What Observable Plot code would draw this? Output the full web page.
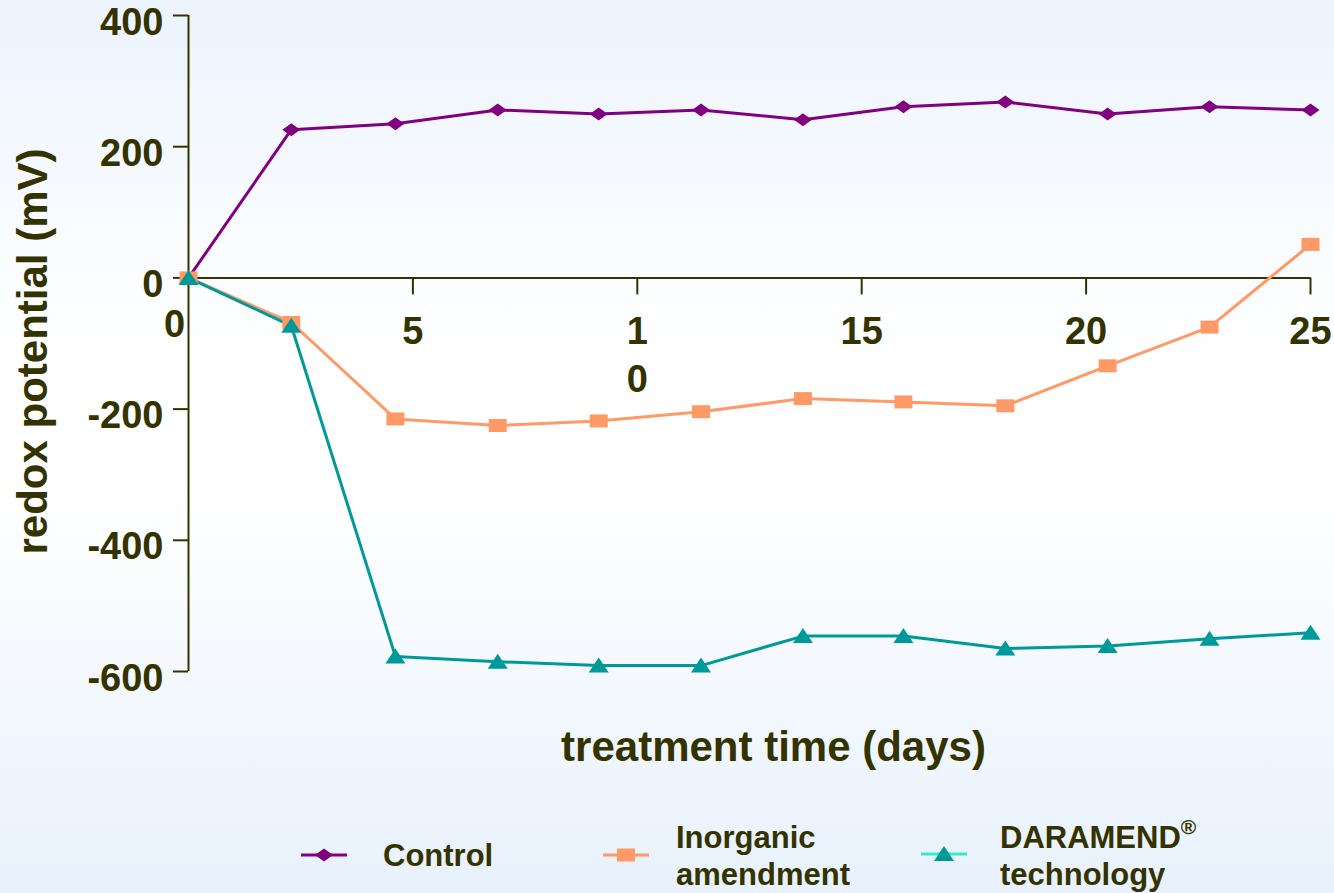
<!DOCTYPE html>
<html>
<head>
<meta charset="utf-8">
<script src="https://cdn.jsdelivr.net/npm/d3@7"></script>
<script src="https://cdn.jsdelivr.net/npm/@observablehq/plot@0.6"></script>
<style>
html, body { margin: 0; padding: 0; }
body {
  width: 1334px; height: 893px; overflow: hidden; position: relative;
  background: linear-gradient(to bottom, #EDF4FE 0%, #FFFFFF 40%, #FFFFFF 55%, #E8F1FC 100%);
  font-family: "Liberation Sans", Arial, sans-serif; font-weight: bold; color: #333300;
}
#chart { position: absolute; left: 0; top: 0; }
#legend { position: absolute; left: 0; top: 800px; width: 1334px; height: 93px; }
#legend svg { position: absolute; left: 0; top: 0; }
.lbl { position: absolute; font-size: 31px; line-height: 37px; white-space: nowrap; }
.lbl sup { font-size: 21px; line-height: 0; position: relative; top: -3px; vertical-align: super; }
</style>
</head>
<body>
<div id="chart"></div>
<div id="legend"></div>
<script>
// ---- data ----
const days = [0, 2.29, 4.61, 6.89, 9.14, 11.42, 13.69, 15.93, 18.2, 20.48, 22.75, 25];
const control = [0, 226, 235, 256, 250, 256, 241, 261, 268, 250, 261, 256];
const inorganic = [0, -68, -215, -225, -218, -204, -184, -189, -195, -134, -75, 51];
const daramend = [0, -73, -577, -585, -591, -591, -546, -546, -565, -561, -550, -541];
const seriesNames = ["Control", "Inorganic\namendment", "DARAMEND®\ntechnology"];
const yTicks = [400, 200, 0, -200, -400, -600];
const xTicks = [5, 10, 15, 20, 25];
const xTickLabels = ["5", "1\n0", "15", "20", "25"];
const xZero = [0];
const xLabel = "treatment time (days)";
const yLabel = "redox potential (mV)";

// ---- styles ----
const ink = "#333300";
const colors = ["#800080", "#FF9966", "#009999"];
const legendLineColors = ["#800080", "#FF9966", "#33EECC"];

const diamondWide = { draw(ctx) { ctx.moveTo(0, -6.5); ctx.lineTo(9, 0); ctx.lineTo(0, 6.5); ctx.lineTo(-9, 0); ctx.closePath(); } };
const rectWide = { draw(ctx) { ctx.moveTo(-9, -6.5); ctx.lineTo(9, -6.5); ctx.lineTo(9, 6.5); ctx.lineTo(-9, 6.5); ctx.closePath(); } };
const triWide = { draw(ctx) { ctx.moveTo(0, -8); ctx.lineTo(10, 7); ctx.lineTo(-10, 7); ctx.closePath(); } };

const seriesVals = [control, inorganic, daramend];
const symbols = [diamondWide, rectWide, triWide];

const plot = Plot.plot({
  width: 1334, height: 800,
  marginLeft: 188, marginRight: 24, marginTop: 15, marginBottom: 129,
  x: { domain: [0, 25], axis: null },
  y: { domain: [-600, 400], axis: null },
  style: { background: "transparent", fontFamily: "'Liberation Sans', Arial, sans-serif", fontWeight: "bold", fontSize: "38px", color: ink, overflow: "visible" },
  marks: [
    Plot.ruleX([0], { stroke: ink, strokeWidth: 2 }),
    Plot.ruleY([0], { stroke: ink, strokeWidth: 2 }),
    Plot.axisY({ ticks: yTicks, tickSize: 15, tickFormat: () => "", label: null, stroke: ink, strokeWidth: 2 }),
    Plot.axisY({ ticks: yTicks, tickSize: 0, tickPadding: 25, dy: 7, tickFormat: d => String(d), label: null, fill: ink, fontSize: 38 }),
    Plot.ruleX(xTicks, { x: d => d, y1: 0, y2: 0, insetTop: 0, insetBottom: -17, stroke: ink, strokeWidth: 2 }),
    Plot.text(xTicks, { x: d => d, y: 0, text: (d, i) => xTickLabels[i], lineAnchor: "top", dy: 32, lineHeight: 1.26, fontSize: 38, fill: ink }),
    Plot.text(xZero, { x: d => d, y: 0, text: d => String(d), lineAnchor: "top", dy: 32, dx: -14, fontSize: 38, fill: ink }),
    Plot.text([yLabel], { frameAnchor: "left", dx: -155, dy: 8, rotate: -90, lineAnchor: "middle", textAnchor: "middle", fontSize: 42, fill: ink }),
    Plot.text([xLabel], { frameAnchor: "bottom", dx: 24, dy: 76, lineAnchor: "middle", textAnchor: "middle", fontSize: 42, fill: ink }),
    ...seriesVals.map((vals, k) => Plot.line(days, { x: days, y: vals, stroke: colors[k], strokeWidth: 3 })),
    ...seriesVals.map((vals, k) => Plot.dot(days, { x: days, y: vals, symbol: symbols[k], fill: colors[k], stroke: "none", r: 5 }))
  ]
});
document.getElementById("chart").appendChild(plot);

// ---- legend ----
const legend = document.getElementById("legend");
const swatchCx = [324, 626, 944];
const swatchY = [55, 55, 54];
const labelLeft = [383, 676, 1000];
const labelTop = [37, 19, 19];
const ns = "http://www.w3.org/2000/svg";
const lsvg = document.createElementNS(ns, "svg");
lsvg.setAttribute("width", 1334); lsvg.setAttribute("height", 93);
seriesNames.forEach((name, k) => {
  const cx = swatchCx[k], cy = swatchY[k];
  const line = document.createElementNS(ns, "line");
  line.setAttribute("x1", cx - 23); line.setAttribute("x2", cx + 23);
  line.setAttribute("y1", cy); line.setAttribute("y2", cy);
  line.setAttribute("stroke", legendLineColors[k]); line.setAttribute("stroke-width", 3);
  lsvg.appendChild(line);
  const p = document.createElementNS(ns, "path");
  p.setAttribute("d", d3.symbol(symbols[k])());
  p.setAttribute("transform", `translate(${cx},${cy})`);
  p.setAttribute("fill", colors[k]);
  lsvg.appendChild(p);
  const div = document.createElement("div");
  div.className = "lbl";
  div.style.left = labelLeft[k] + "px";
  div.style.top = labelTop[k] + "px";
  div.innerHTML = name.split("\n").map(s => s.replace("®", "<sup>®</sup>")).join("<br>");
  legend.appendChild(div);
});
legend.insertBefore(lsvg, legend.firstChild);
</script>
</body>
</html>
